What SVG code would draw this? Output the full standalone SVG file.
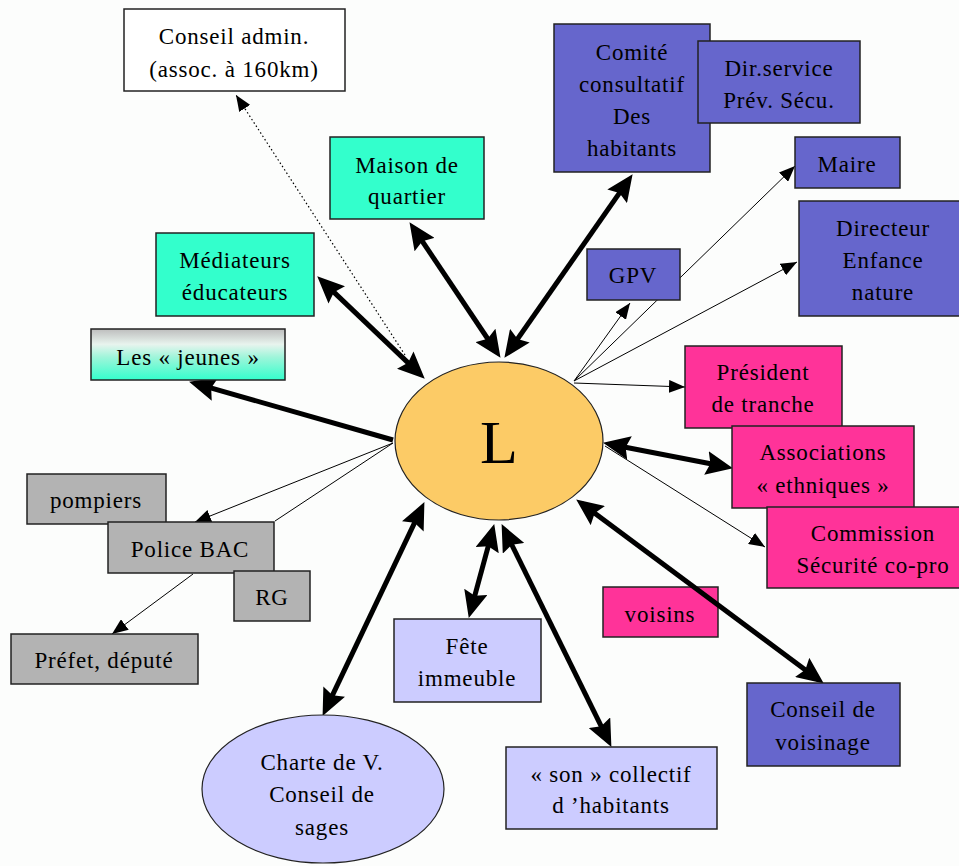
<svg xmlns="http://www.w3.org/2000/svg" width="959" height="866" viewBox="0 0 959 866">
<style>
text{font-family:"Liberation Serif","Times New Roman",serif;font-size:23px;fill:#000;text-anchor:middle;letter-spacing:0.8px}
.box{stroke:#222;stroke-width:1.5}
.w{fill:#ffffff}
.t{fill:#33ffcc}
.b{fill:#6666cc}
.m{fill:#ff3399}
.g{fill:#b3b3b3}
.p{fill:#ccccff}
.thick{stroke:#000;stroke-width:5;fill:none}
.thin{stroke:#000;stroke-width:1;fill:none}
.dot{stroke:#000;stroke-width:1.2;fill:none;stroke-dasharray:1.5 2.5}
</style>
<defs>
<marker id="ah" markerUnits="userSpaceOnUse" markerWidth="27" markerHeight="24" viewBox="0 0 27 24" refX="20" refY="12" orient="auto-start-reverse">
<path d="M0,0 L27,12 L0,24 L4,12 z" fill="#000"/>
</marker>
<marker id="as" markerUnits="userSpaceOnUse" markerWidth="16" markerHeight="13" viewBox="0 0 16 13" refX="16" refY="6.5" orient="auto">
<path d="M0,0 L16,6.5 L0,13 z" fill="#000"/>
</marker>
<linearGradient id="jg" x1="0" y1="0" x2="0" y2="1">
<stop offset="0" stop-color="#bdbdbd"/>
<stop offset="0.3" stop-color="#e8f4ee"/>
<stop offset="0.55" stop-color="#9ff5da"/>
<stop offset="1" stop-color="#33ffcc"/>
</linearGradient>
</defs>
<rect x="0" y="0" width="959" height="866" fill="#fcfdfc"/>

<g id="voisins">
<rect class="box m" x="603" y="587" width="115" height="50"/>
<text x="660" y="622">voisins</text>
</g>

<g id="connectors">
<line class="dot" x1="405" y1="355" x2="236" y2="95" marker-end="url(#as)"/>
<line class="thick" x1="413.4" y1="228" x2="496.6" y2="352" marker-start="url(#ah)" marker-end="url(#ah)"/>
<line class="thick" x1="322.3" y1="281.1" x2="419.7" y2="373.9" marker-start="url(#ah)" marker-end="url(#ah)"/>
<line class="thick" x1="508.4" y1="352.1" x2="628.6" y2="179.9" marker-start="url(#ah)" marker-end="url(#ah)"/>
<line class="thin" x1="574" y1="381" x2="630" y2="303" marker-end="url(#as)"/>
<line class="thin" x1="574" y1="381" x2="795" y2="166" marker-end="url(#as)"/>
<line class="thin" x1="574" y1="381" x2="797" y2="262" marker-end="url(#as)"/>
<line class="thin" x1="574" y1="383" x2="685" y2="387" marker-end="url(#as)"/>
<line class="thick" x1="609.9" y1="444.2" x2="726.1" y2="466.8" marker-start="url(#ah)" marker-end="url(#ah)"/>
<line class="thin" x1="605" y1="446" x2="765" y2="547" marker-end="url(#as)"/>
<line class="thick" x1="581.8" y1="503.6" x2="818.2" y2="679.4" marker-start="url(#ah)" marker-end="url(#ah)"/>
<line class="thick" x1="504.7" y1="530.4" x2="608.3" y2="740.6" marker-start="url(#ah)" marker-end="url(#ah)"/>
<line class="thick" x1="492.4" y1="530.8" x2="470.6" y2="611.2" marker-start="url(#ah)" marker-end="url(#ah)"/>
<line class="thick" x1="421.4" y1="508.4" x2="325.6" y2="709.6" marker-start="url(#ah)" marker-end="url(#ah)"/>
<line class="thick" x1="393" y1="440" x2="195.8" y2="383.6" marker-end="url(#ah)"/>
<line class="thin" x1="393" y1="443" x2="195" y2="522" marker-end="url(#as)"/>
<line class="thin" x1="393" y1="443" x2="275" y2="521"/>
<line class="thin" x1="193" y1="574" x2="112" y2="634" marker-end="url(#as)"/>
</g>

<g id="L">
<ellipse cx="499" cy="441" rx="104" ry="79" fill="#fccb66" stroke="#222" stroke-width="1.2"/>
<text x="499" y="463" style="font-size:62px;letter-spacing:0">L</text>
</g>

<g id="conseil-admin">
<rect class="box w" x="124" y="9" width="221" height="82"/>
<text x="234" y="44">Conseil admin.</text>
<text x="234" y="77">(assoc. à 160km)</text>
</g>
<g id="maison-quartier">
<rect class="box t" x="330" y="137" width="154" height="82"/>
<text x="407" y="173">Maison de</text>
<text x="407" y="204">quartier</text>
</g>
<g id="mediateurs">
<rect class="box t" x="156" y="233" width="158" height="83"/>
<text x="235" y="268">Médiateurs</text>
<text x="235" y="300">éducateurs</text>
</g>
<g id="jeunes">
<rect class="box" fill="url(#jg)" x="91" y="329" width="194" height="51"/>
<text x="188" y="365">Les « jeunes »</text>
</g>
<g id="pompiers">
<rect class="box g" x="27" y="474" width="139" height="50"/>
<text x="96" y="508">pompiers</text>
</g>
<g id="police">
<rect class="box g" x="108" y="522" width="166" height="51"/>
<text x="190" y="557">Police BAC</text>
</g>
<g id="rg">
<rect class="box g" x="234" y="571" width="76" height="50"/>
<text x="272" y="605">RG</text>
</g>
<g id="prefet">
<rect class="box g" x="11" y="634" width="187" height="50"/>
<text x="104" y="668">Préfet, député</text>
</g>
<g id="comite">
<rect class="box b" x="554" y="24" width="156" height="148"/>
<text x="632" y="60">Comité</text>
<text x="632" y="92">consultatif</text>
<text x="632" y="124">Des</text>
<text x="632" y="156">habitants</text>
</g>
<g id="dir-service">
<rect class="box b" x="698" y="41" width="162" height="82"/>
<text x="779" y="76">Dir.service</text>
<text x="779" y="108">Prév. Sécu.</text>
</g>
<g id="maire">
<rect class="box b" x="795" y="137" width="105" height="51"/>
<text x="847" y="172">Maire</text>
</g>
<g id="directeur">
<rect class="box b" x="799" y="201" width="175" height="115"/>
<text x="883" y="236">Directeur</text>
<text x="883" y="268">Enfance</text>
<text x="883" y="300">nature</text>
</g>
<g id="gpv">
<rect class="box b" x="587" y="249" width="93" height="51"/>
<text x="633" y="283">GPV</text>
</g>
<g id="president">
<rect class="box m" x="685" y="346" width="157" height="82"/>
<text x="763" y="380">Président</text>
<text x="763" y="412">de tranche</text>
</g>
<g id="associations">
<rect class="box m" x="732" y="426" width="182" height="82"/>
<text x="823" y="460">Associations</text>
<text x="823" y="493">« ethniques »</text>
</g>
<g id="commission">
<rect class="box m" x="767" y="507" width="200" height="81"/>
<text x="873" y="541">Commission</text>
<text x="873" y="573">Sécurité co-pro</text>
</g>
<g id="conseil-voisinage">
<rect class="box b" x="747" y="683" width="153" height="83"/>
<text x="823" y="717">Conseil de</text>
<text x="823" y="750">voisinage</text>
</g>
<g id="fete">
<rect class="box p" x="394" y="619" width="147" height="83"/>
<text x="467" y="654">Fête</text>
<text x="467" y="686">immeuble</text>
</g>
<g id="son-collectif">
<rect class="box p" x="506" y="747" width="211" height="82"/>
<text x="611" y="782">« son » collectif</text>
<text x="611" y="813">d ’habitants</text>
</g>
<g id="charte">
<ellipse cx="323" cy="789" rx="121" ry="74" fill="#ccccff" stroke="#222" stroke-width="1.2"/>
<text x="322" y="770">Charte de V.</text>
<text x="322" y="802">Conseil de</text>
<text x="322" y="835">sages</text>
</g>
</svg>
